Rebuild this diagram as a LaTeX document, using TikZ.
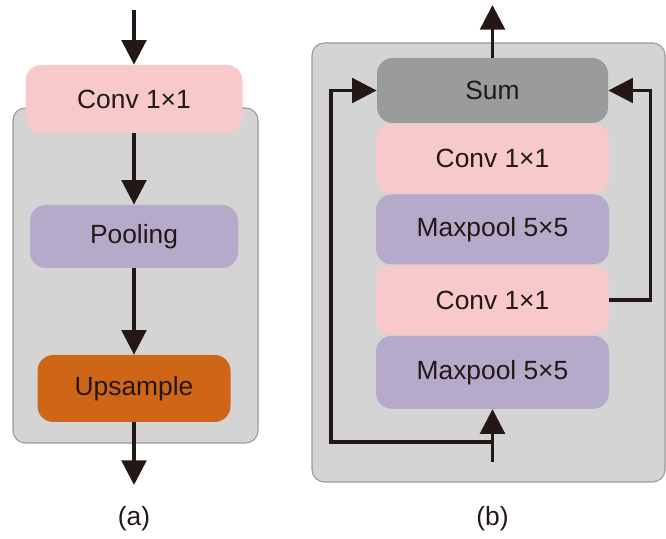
\documentclass[tikz,border=0pt]{standalone}
\usepackage{fontspec}
\setmainfont{Liberation Sans}
\usetikzlibrary{positioning, arrows.meta}

\definecolor{inkdark}{HTML}{231815}
\definecolor{convpink}{HTML}{F7C9CB}
\definecolor{poolviolet}{HTML}{B6AACB}
\definecolor{uporange}{HTML}{CF6516}
\definecolor{sumgray}{HTML}{9A9C9B}
\definecolor{panelgray}{HTML}{D4D4D4}

\begin{document}
\begin{tikzpicture}[
    % Clean styles
    panel/.style={
        rectangle,
        rounded corners=7pt,
        draw=black!40,
        line width=0.6pt,
        fill=panelgray
    },
    layer/.style={
        rectangle,
        rounded corners=9pt,
        minimum height=1.4cm,
        inner sep=0pt,
        text=inkdark,
        font=\fontsize{15}{18}\selectfont
    },
    arrow/.style={
        -{Triangle[width=14pt, length=14pt]},
        line width=2pt,
        inkdark
    },
    caption/.style={
        font=\fontsize{15}{18}\selectfont,
        text=inkdark
    }
]
\useasboundingbox (0,0) rectangle (13.32,10.78);

% === Left: (a) ===
\node[panel, minimum width=4.9cm, minimum height=6.7cm] (panela) at (2.71, 5.27) {};
\node[layer, fill=convpink, minimum width=4.34cm, minimum height=1.36cm] (conva) at (2.68, 8.8) {Conv 1×1};
\node[layer, fill=poolviolet, minimum width=4.16cm, minimum height=1.26cm] (pool) at (2.68, 6.05) {Pooling};
\node[layer, fill=uporange, minimum width=3.86cm, minimum height=1.34cm] (upsample) at (2.68, 3.01) {Upsample};

\coordinate (ina) at (2.68, 10.58);
\coordinate (outa) at (2.68, 1.08);

\draw[arrow] (ina) -- (conva);
\draw[arrow] (conva) -- (pool);
\draw[arrow] (pool) -- (upsample);
\draw[arrow] (upsample) -- (outa);

\node[caption] (capa) at (2.68, 0.4) {(a)};

% === Right: (b) ===
\node[panel, minimum width=7.06cm, minimum height=8.78cm] (panelb) at (9.77, 5.53) {};
\node[layer, fill=sumgray, minimum width=4.62cm, minimum height=1.3cm] (sum) at (9.85, 8.97) {Sum};
\node[layer, fill=convpink, minimum width=4.66cm, below=0pt of sum] (convb) {Conv 1×1};
\node[layer, fill=poolviolet, minimum width=4.66cm, below=0pt of convb] (maxb) {Maxpool 5×5};
\node[layer, fill=convpink, minimum width=4.66cm, below=0pt of maxb] (convc) {Conv 1×1};
\node[layer, fill=poolviolet, minimum width=4.66cm, minimum height=1.46cm, below=0pt of convc] (maxc) {Maxpool 5×5};

\coordinate (inb) at (9.85, 1.54);
\coordinate (split) at (9.85, 1.94);
\coordinate (outb) at (9.85, 10.68);

\draw[arrow] (inb) -- (maxc);
\draw[arrow] (sum) -- (outb);
\draw[arrow] (split) -- ++(-3.23, 0) |- (sum.west);
\draw[arrow] (convc.east) -- ++(0.82, 0) |- (sum.east);

\node[caption] (capb) at (9.85, 0.4) {(b)};

\end{tikzpicture}
\end{document}
